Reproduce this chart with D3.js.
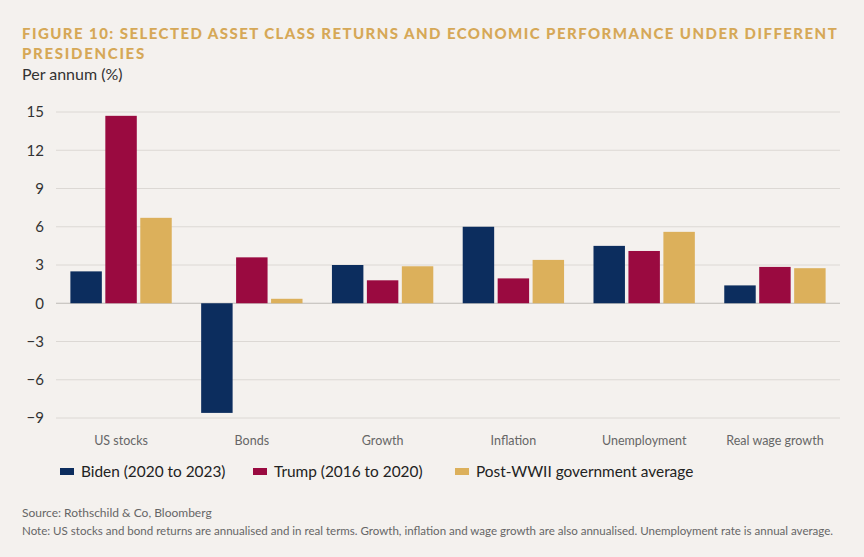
<!DOCTYPE html>
<html>
<head>
<meta charset="utf-8">
<script src="https://cdn.jsdelivr.net/npm/d3@7"></script>
<style>
  html, body { margin: 0; padding: 0; background: #f4f1ee; }
  svg { display: block; font-family: Lato, "Open Sans", sans-serif; }
</style>
</head>
<body>
<svg id="chart" width="864" height="557"></svg>
<script>
const categories = ["US stocks", "Bonds", "Growth", "Inflation", "Unemployment", "Real wage growth"];
const seriesNames = ["Biden (2020 to 2023)", "Trump (2016 to 2020)", "Post-WWII government average"];
const biden = [2.5, -8.6, 3.0, 6.0, 4.5, 1.4];
const trump = [14.7, 3.6, 1.8, 1.95, 4.1, 2.85];
const postWWII = [6.7, 0.35, 2.9, 3.4, 5.6, 2.75];
const yTicks = [15, 12, 9, 6, 3, 0, -3, -6, -9];
const colors = ["#0c2d5e", "#9a0a40", "#dcb05b"];

const seriesValues = [biden, trump, postWWII];
const svg = d3.select("#chart");
const W = 864, H = 557;
svg.append("rect").attr("width", W).attr("height", H).attr("fill", "#f4f1ee");

// fit a text element's font size so its natural width is at most maxW
function fit(sel, size, maxW) {
  sel.attr("font-size", size);
  const w = sel.node().getComputedTextLength();
  if (w > maxW) sel.attr("font-size", size * maxW / w);
}

// Title
const title = svg.append("g").attr("fill", "#d6a857").attr("font-weight", 900)
  .attr("font-size", 15);
const t1 = title.append("text").attr("x", 22).attr("y", 39).attr("letter-spacing", 1.3)
  .text("FIGURE 10: SELECTED ASSET CLASS RETURNS AND ECONOMIC PERFORMANCE UNDER DIFFERENT");
fit(t1, 15, 816);
{
  const w = t1.node().getComputedTextLength();
  const n = t1.text().length;
  const ls = 1.3 + (816 - w) / (n - 1);
  t1.attr("letter-spacing", ls);
}
title.append("text").attr("x", 22).attr("y", 59).attr("letter-spacing", 1.7)
  .attr("font-size", t1.attr("font-size"))
  .text("PRESIDENCIES");

svg.append("text").attr("x", 22).attr("y", 80).attr("font-size", 16)
  .attr("fill", "#333").text("Per annum (%)");

// Scales
const x0 = d3.scaleBand().domain(categories).range([56, 840])
  .paddingInner(0.225).paddingOuter(0.11);
const x1 = d3.scaleBand().domain(d3.range(3)).range([0, x0.bandwidth()]).paddingInner(0.1);
const y = d3.scaleLinear().domain([-9, 15]).range([418, 112]);

// Grid
svg.append("g").selectAll("line").data(yTicks).join("line")
  .attr("x1", 56).attr("x2", 840)
  .attr("y1", d => y(d)).attr("y2", d => y(d))
  .attr("stroke", d => d === 0 ? "#bdbab6" : "#dcd8d4").attr("stroke-width", 1);

// Y axis
const yAxis = d3.axisLeft(y).tickValues(yTicks).tickSize(0).tickPadding(0);
const gy = svg.append("g").attr("transform", "translate(44,0)").call(yAxis);
gy.select(".domain").remove();
gy.selectAll("text").attr("font-size", 15).attr("fill", "#333")
  .attr("font-family", "Lato, 'Open Sans', sans-serif");

// Bars
const groups = svg.append("g").selectAll("g").data(categories).join("g")
  .attr("transform", d => `translate(${x0(d)},0)`);
groups.selectAll("rect").data((c, i) => seriesValues.map((s, k) => ({k, v: s[i]}))).join("rect")
  .attr("x", d => x1(d.k))
  .attr("width", x1.bandwidth())
  .attr("y", d => y(Math.max(0, d.v)))
  .attr("height", d => Math.abs(y(d.v) - y(0)))
  .attr("fill", d => colors[d.k]);

// X axis labels
const xAxis = d3.axisBottom(x0).tickSize(0).tickPadding(0);
const gx = svg.append("g").attr("transform", "translate(0,436)").call(xAxis);
gx.select(".domain").remove();
gx.selectAll("text").attr("font-size", 12.5).attr("fill", "#666")
  .attr("font-family", "Lato, 'Open Sans', sans-serif");

// Legend
const legendX = [60, 253, 455];
const lg = svg.append("g").selectAll("g").data(seriesNames).join("g")
  .attr("transform", (d, i) => `translate(${legendX[i]},0)`);
lg.append("rect").attr("x", 0).attr("y", 468).attr("width", 14).attr("height", 7)
  .attr("fill", (d, i) => colors[i]);
lg.append("text").attr("x", 21).attr("y", 477).attr("font-size", 15.4).attr("fill", "#222")
  .text(d => d);

// Footer
svg.append("text").attr("x", 22).attr("y", 517).attr("font-size", 12).attr("fill", "#666")
  .text("Source: Rothschild & Co, Bloomberg");
const note = svg.append("text").attr("x", 22).attr("y", 535).attr("fill", "#666")
  .text("Note: US stocks and bond returns are annualised and in real terms. Growth, inflation and wage growth are also annualised. Unemployment rate is annual average.");
fit(note, 12, 812);
</script>
</body>
</html>
